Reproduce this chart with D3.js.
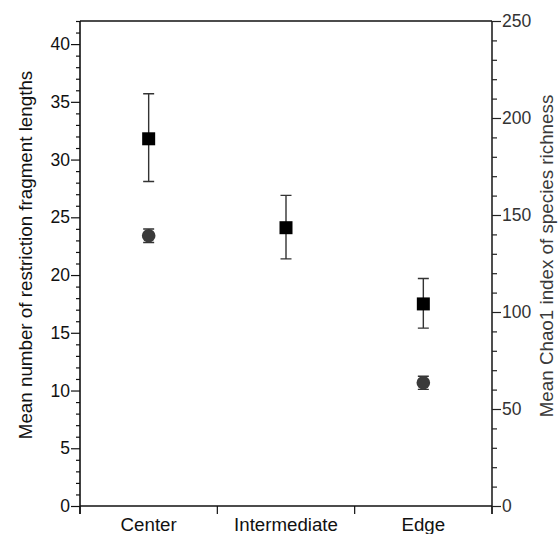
<!DOCTYPE html>
<html>
<head>
<meta charset="utf-8">
<script src="https://cdn.jsdelivr.net/npm/d3@7"></script>
<style>
  html, body { margin: 0; padding: 0; background: #fff; }
  svg { display: block; font-family: "Liberation Sans", Arial, Helvetica, sans-serif; }
</style>
</head>
<body>
<svg id="chart" width="558" height="534"></svg>
<script>
// Sites along the transect
const categories = ["Center", "Intermediate", "Edge"];

// Mean number of restriction fragment lengths (left axis) with error bar limits
const rflpMean = [31.8, 24.1, 17.5];
const rflpLow  = [28.1, 21.4, 15.4];
const rflpHigh = [35.7, 26.9, 19.7];

// Mean Chao1 richness (right axis) with error bar limits; no value at the intermediate site
const chao1Mean = [139.3, null, 63.5];
const chao1Low  = [135.8, null, 60.1];
const chao1High = [142.8, null, 66.9];

// Axis ticks
const leftMajor  = [0, 5, 10, 15, 20, 25, 30, 35, 40];
const leftMinor  = d3.range(0, 43, 1).filter(v => v % 5 !== 0);
const rightMajor = [0, 50, 100, 150, 200, 250];
const rightMinor = d3.range(0, 251, 10).filter(v => v % 50 !== 0);

const leftTitle  = "Mean number of restriction fragment lengths";
const rightTitle = "Mean Chao1 index of species richness";

const svg = d3.select("#chart");
const L = 80, R = 492, T = 21, B = 506;

const x  = d3.scaleBand().domain(categories).range([L, R]);
const yL = d3.scaleLinear().domain([0, 42]).range([B, T]);
const yR = d3.scaleLinear().domain([0, 250]).range([B, T]);

const axisColor = "#111";
const font = "'Liberation Sans', Arial, sans-serif";

// Left axis: minor then major ticks
svg.append("g")
  .attr("transform", `translate(${L},0)`)
  .call(d3.axisLeft(yL).tickValues(leftMinor).tickSize(4).tickFormat(""))
  .call(g => g.select(".domain").remove())
  .call(g => g.selectAll("line").attr("stroke", axisColor).attr("stroke-width", 1.2));

svg.append("g")
  .attr("transform", `translate(${L},0)`)
  .call(d3.axisLeft(yL).tickValues(leftMajor).tickSize(9).tickPadding(1))
  .call(g => g.select(".domain").remove())
  .call(g => g.selectAll("line").attr("stroke", axisColor).attr("stroke-width", 1.2))
  .call(g => g.selectAll("text").attr("font-size", 17.5).attr("fill", "#111").attr("font-family", font));

// Right axis
svg.append("g")
  .attr("transform", `translate(${R},0)`)
  .call(d3.axisRight(yR).tickValues(rightMinor).tickSize(5).tickFormat(""))
  .call(g => g.select(".domain").remove())
  .call(g => g.selectAll("line").attr("stroke", "#222").attr("stroke-width", 1.2));

svg.append("g")
  .attr("transform", `translate(${R},0)`)
  .call(d3.axisRight(yR).tickValues(rightMajor).tickSize(9).tickPadding(1))
  .call(g => g.select(".domain").remove())
  .call(g => g.selectAll("line").attr("stroke", "#222").attr("stroke-width", 1.2))
  .call(g => g.selectAll("text").attr("font-size", 17.5).attr("fill", "#333").attr("font-family", font));

// Bottom axis: category labels centred in bands, ticks at band boundaries
svg.append("g")
  .attr("transform", `translate(0,${B})`)
  .call(d3.axisBottom(x).tickSize(0).tickPadding(12))
  .call(g => g.select(".domain").remove())
  .call(g => g.selectAll("text").attr("font-size", 18.7).attr("fill", "#111").attr("font-family", font));

const bounds = categories.map(c => x(c)).concat([x.range()[1]]);
svg.append("g").selectAll("line")
  .data(bounds)
  .join("line")
  .attr("x1", d => d).attr("x2", d => d)
  .attr("y1", B).attr("y2", B + 8)
  .attr("stroke", axisColor).attr("stroke-width", 1.2);

// Frame: left, right, bottom axis lines and top border
const frame = svg.append("g").attr("stroke", axisColor).attr("stroke-width", 1.6).attr("fill", "none");
frame.append("line").attr("x1", L).attr("x2", L).attr("y1", T).attr("y2", B + 8);
frame.append("line").attr("x1", R).attr("x2", R).attr("y1", T).attr("y2", B + 8).attr("stroke", "#222");
frame.append("line").attr("x1", L).attr("x2", R).attr("y1", B).attr("y2", B);
frame.append("line").attr("x1", L).attr("x2", R).attr("y1", T).attr("y2", T);

const cx = c => x(c) + x.bandwidth() / 2;
const capW = 5.5;
const errColor = "#333";

// Chao1 points (grey circles, right axis)
const chao = categories.map((c, i) => ({ c, m: chao1Mean[i], lo: chao1Low[i], hi: chao1High[i] }))
  .filter(d => d.m !== null);
const gC = svg.append("g");
gC.selectAll("path.err")
  .data(chao).join("path").attr("class", "err")
  .attr("d", d => `M${cx(d.c)},${yR(d.lo)}V${yR(d.hi)}` +
    `M${cx(d.c) - capW},${yR(d.hi)}H${cx(d.c) + capW}` +
    `M${cx(d.c) - capW},${yR(d.lo)}H${cx(d.c) + capW}`)
  .attr("stroke", errColor).attr("stroke-width", 1.4).attr("fill", "none");
gC.selectAll("circle")
  .data(chao).join("circle")
  .attr("cx", d => cx(d.c)).attr("cy", d => yR(d.m))
  .attr("r", 6.8).attr("fill", "#3a3a3a");

// RFLP points (black squares, left axis)
const rflp = categories.map((c, i) => ({ c, m: rflpMean[i], lo: rflpLow[i], hi: rflpHigh[i] }));
const gR = svg.append("g");
gR.selectAll("path.err")
  .data(rflp).join("path").attr("class", "err")
  .attr("d", d => `M${cx(d.c)},${yL(d.lo)}V${yL(d.hi)}` +
    `M${cx(d.c) - capW},${yL(d.hi)}H${cx(d.c) + capW}` +
    `M${cx(d.c) - capW},${yL(d.lo)}H${cx(d.c) + capW}`)
  .attr("stroke", errColor).attr("stroke-width", 1.4).attr("fill", "none");
const sq = 13;
gR.selectAll("rect")
  .data(rflp).join("rect")
  .attr("x", d => cx(d.c) - sq / 2).attr("y", d => yL(d.m) - sq / 2)
  .attr("width", sq).attr("height", sq).attr("fill", "#000");

// Axis titles
svg.append("text")
  .attr("transform", "translate(32,255) rotate(-90)")
  .attr("text-anchor", "middle")
  .attr("font-size", 18.8).attr("fill", "#111")
  .text(leftTitle);

svg.append("text")
  .attr("transform", "translate(553,256) rotate(-90)")
  .attr("text-anchor", "middle")
  .attr("font-size", 18.8).attr("fill", "#3a3a3a")
  .text(rightTitle);
</script>
</body>
</html>
